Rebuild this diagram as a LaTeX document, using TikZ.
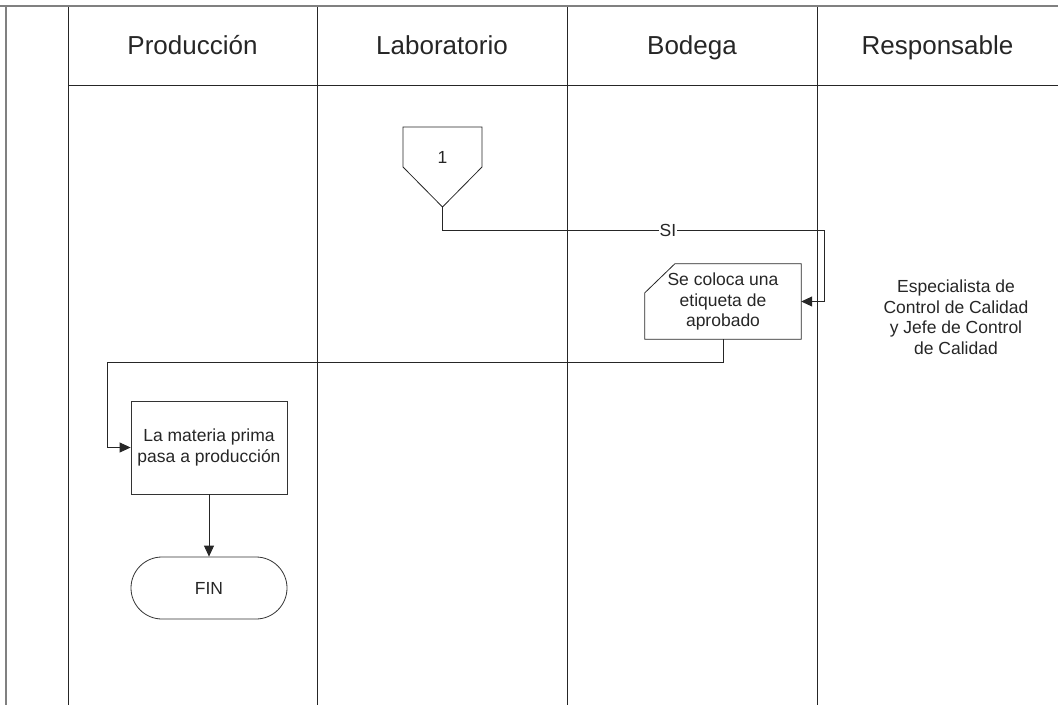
\documentclass[tikz,border=0pt]{standalone}
\usepackage{fontspec}
\setmainfont{Liberation Sans}
\usetikzlibrary{positioning,arrows.meta,calc}
\tikzset{
  frame/.style={line width=1.6pt, draw=black!50},
  lane/.style={line width=0.9pt, draw=black!85},
  lane title/.style={anchor=base, font=\fontsize{26}{31}\selectfont, text=black!85},
  flow text/.style={font=\fontsize{17.5}{20.5}\selectfont, text=black!85, align=center},
  process/.style={flow text, draw=black!80, line width=0.8pt,
     minimum width=156pt, minimum height=93pt, inner sep=0pt},
  card/.style={flow text, minimum width=156pt, minimum height=75pt, inner sep=0pt},
  terminal/.style={flow text, draw=black!80, line width=0.8pt, rounded corners=31pt,
     minimum width=156pt, minimum height=62pt},
  flow/.style={line width=0.8pt, draw=black!85},
  arrow/.style={flow, -{Triangle[length=11pt,width=10pt]}},
}
\begin{document}
\begin{tikzpicture}[x=1pt,y=-1pt]
    \useasboundingbox (0,0) rectangle (1058,705);

    % outer frame, lane dividers and header rule
    \draw[frame] (0,6) -- (1058,6);
    \draw[frame] (6,6) -- (6,705);
    \foreach \x in {68,317,567,817}
        \draw[lane] (\x,7) -- (\x,705);
    \draw[lane] (68,85) -- (1058,85);

    % lane titles
    \node[lane title] (prod) at (192.5,54) {Producción};
    \node[lane title] (lab)  at (442,54)   {Laboratorio};
    \node[lane title] (bod)  at (692,54)   {Bodega};
    \node[lane title] (resp) at (937.5,54) {Responsable};

    % off-page connector coming in
    \node[flow text] (conn1) at (442.5,157) {1};
    \draw[flow] (403,127) -- (482,127) -- (482,167) -- (442.5,207) coordinate (conn1tip)
        -- (403,167) -- cycle;

    % label card (corner cut off)
    \node[card] (tag) at (723,301.5) {Se coloca una\\etiqueta de\\aprobado};
    \draw[flow] ($(tag.north west)+(30,0)$) -- (tag.north east) -- (tag.south east)
        -- (tag.south west) -- ($(tag.north west)+(0,29)$) -- cycle;

    % production step and end
    \node[process] (mp) at (209,447.5) {La materia prima\\pasa a producción};
    \node[terminal] (fin) at (209,588) {FIN};

    % who is in charge
    \node[flow text] (who) at (956,317) {Especialista de\\Control de Calidad\\y Jefe de Control\\de Calidad};

    % connectors
    \coordinate (siturn) at (824,230);
    \draw[arrow] (conn1tip) |- (siturn) |- (tag.east);
    \node[flow text, fill=white, inner sep=1pt] (si) at (668,230) {SI};

    \coordinate (back) at (107,362);
    \draw[arrow] (tag.south) |- (back) |- (mp.west);
    \draw[arrow] (mp.south) -- (fin.north);
\end{tikzpicture}
\end{document}
